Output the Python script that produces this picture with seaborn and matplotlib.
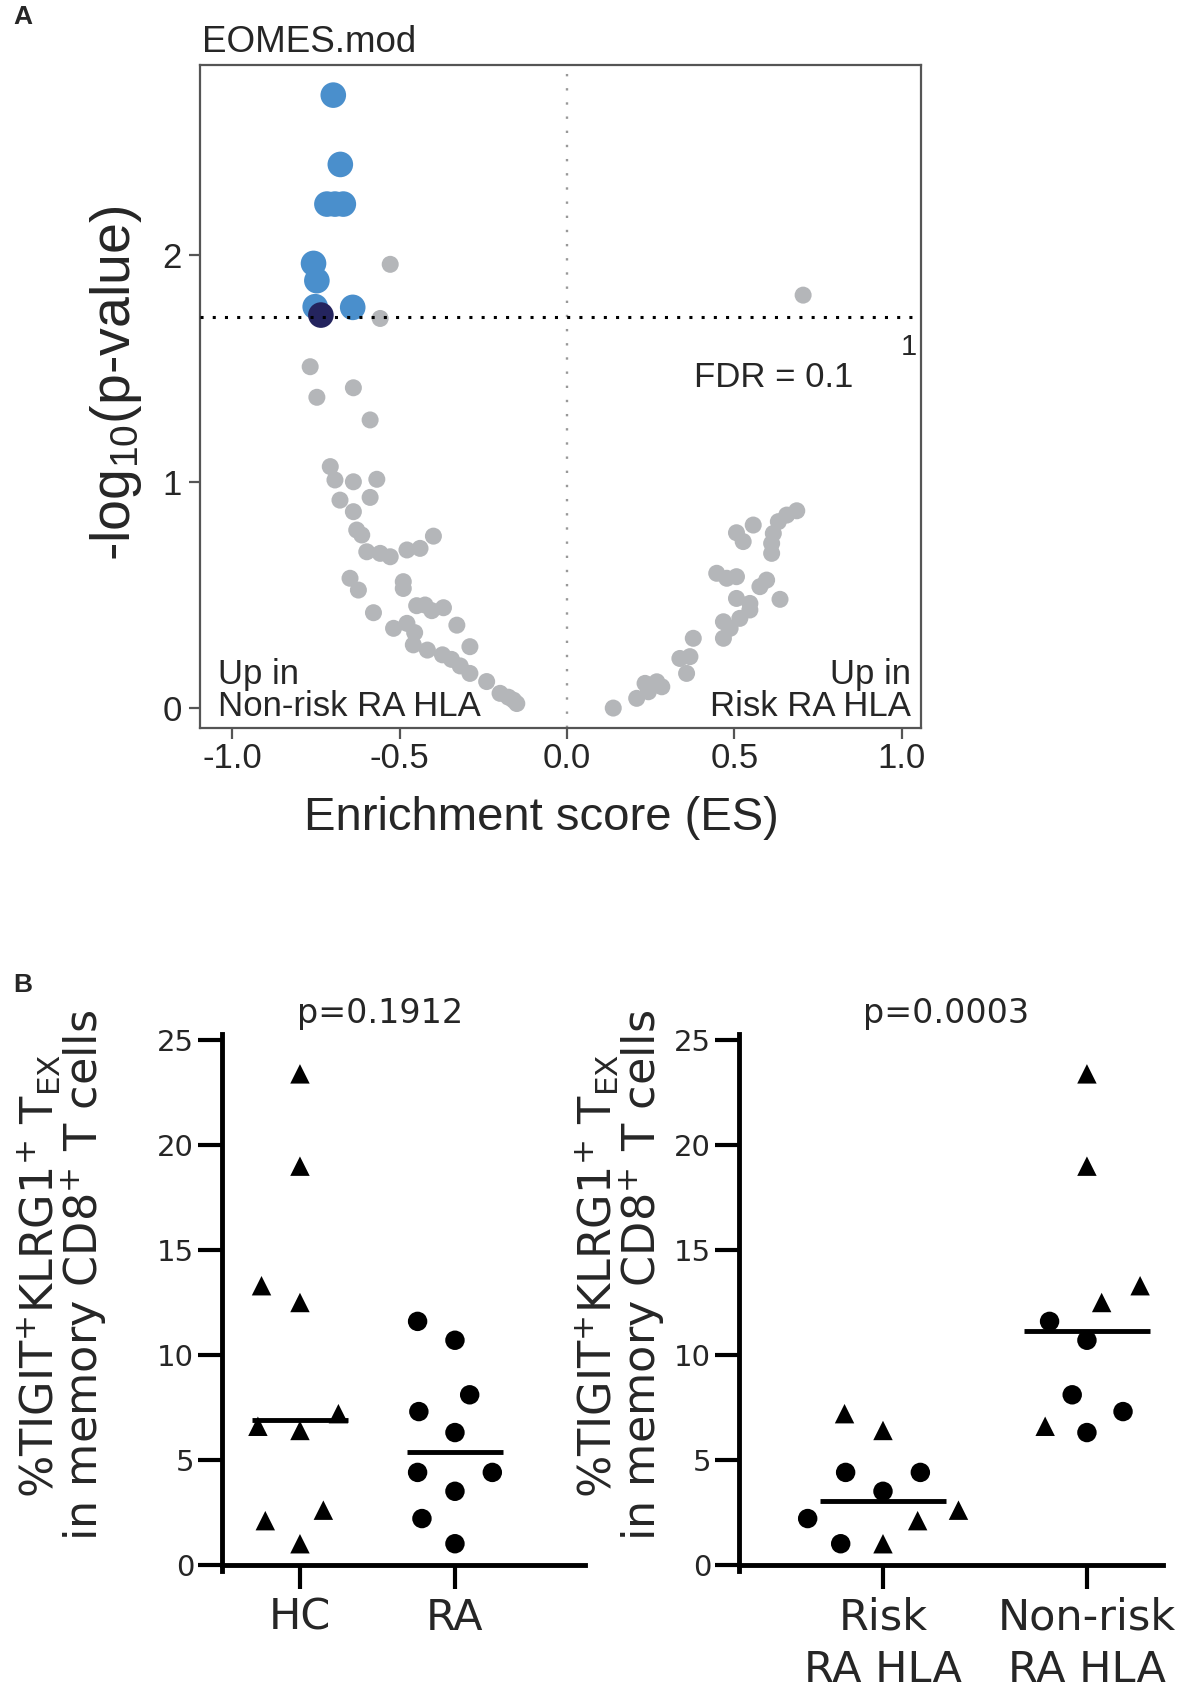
import numpy as np
import pandas as pd
import seaborn as sns
import matplotlib.pyplot as plt
from matplotlib.markers import MarkerStyle

# ---- panel A: enrichment score vs -log10(p) for each module ----
es_gray = [-0.528, -0.558, 0.705,
           -0.767, -0.747, -0.638, -0.588,
           -0.707, -0.693, -0.638, -0.568, -0.588, -0.678, -0.638, -0.628, -0.613,
           -0.598, -0.558, -0.528, -0.478, -0.439, -0.399,
           -0.648, -0.623, -0.489, -0.489,
           -0.578, -0.518, -0.478, -0.455,
           -0.449, -0.424, -0.404, -0.369,
           -0.329, -0.459, -0.417, -0.372, -0.345, -0.290,
           -0.319, -0.290, -0.240, -0.200, -0.175, -0.160, -0.150,
           0.138, 0.208, 0.243, 0.233, 0.268, 0.283, 0.357, 0.337, 0.367, 0.377,
           0.467, 0.487, 0.467, 0.516, 0.506, 0.546, 0.546, 0.636, 0.596, 0.576,
           0.447, 0.477, 0.506, 0.611, 0.611, 0.616, 0.526, 0.506, 0.556, 0.631,
           0.656, 0.686]
logp_gray = [1.959, 1.720, 1.823,
             1.507, 1.372, 1.414, 1.272,
             1.066, 1.007, 0.999, 1.010, 0.930, 0.918, 0.867, 0.786, 0.764,
             0.690, 0.683, 0.668, 0.698, 0.705, 0.759,
             0.573, 0.521, 0.558, 0.528,
             0.421, 0.352, 0.374, 0.333,
             0.452, 0.455, 0.430, 0.443,
             0.366, 0.279, 0.256, 0.235, 0.215, 0.271,
             0.186, 0.153, 0.117, 0.065, 0.048, 0.035, 0.020,
             0.000, 0.043, 0.072, 0.109, 0.116, 0.094, 0.153, 0.219, 0.227, 0.308,
             0.308, 0.352, 0.381, 0.396, 0.484, 0.462, 0.433, 0.480, 0.565, 0.536,
             0.595, 0.573, 0.580, 0.683, 0.727, 0.771, 0.735, 0.774, 0.808, 0.823,
             0.852, 0.871]
es_blue = [-0.698, -0.677, -0.717, -0.693, -0.668, -0.757, -0.747, -0.752, -0.640]
logp_blue = [2.706, 2.400, 2.225, 2.225, 2.225, 1.963, 1.887, 1.772, 1.769]
es_navy = [-0.735]
logp_navy = [1.735]
fdr_cut = 1.726

# ---- panel B: % TIGIT+KLRG1+ TEX in memory CD8+ T cells ----
hc_vals = [23.4, 19.0, 13.3, 12.5, 7.2, 6.4, 6.6, 2.1, 2.6, 1.0]
ra_vals = [11.6, 10.7, 8.1, 7.3, 6.3, 4.4, 4.4, 3.5, 2.2, 1.0]
risk_tri = [6.4, 7.2, 2.6, 2.1, 1.0]
risk_dot = [4.4, 4.4, 3.5, 2.2, 1.0]
nonrisk_tri = [23.4, 19.0, 12.5, 13.3, 6.6]
nonrisk_dot = [10.7, 11.6, 8.1, 7.3, 6.3]
groups_left = ['HC', 'RA']
groups_right = ['Risk\nRA HLA', 'Non-risk\nRA HLA']
p_left = 'p=0.1912'
p_right = 'p=0.0003'

sns.set_style('white')
plt.rcParams['font.family'] = ['Liberation Sans', 'DejaVu Sans']
plt.rcParams['mathtext.fontset'] = 'custom'
plt.rcParams['mathtext.rm'] = 'Liberation Sans'
plt.rcParams['mathtext.it'] = 'Liberation Sans:italic'
plt.rcParams['axes.unicode_minus'] = False

W, H = 1181, 1703
fig = plt.figure(figsize=(W / 100, H / 100), dpi=100)


def box(l, t, r, b):
    return [l / W, 1 - b / H, (r - l) / W, (b - t) / H]


# ---------------- panel A ----------------
axA = fig.add_axes(box(200, 65, 921, 728))
gsea = pd.DataFrame({
    'ES': es_gray + es_blue + es_navy,
    'logp': logp_gray + logp_blue + logp_navy,
    'grp': ['ns'] * len(es_gray) + ['sig'] * len(es_blue) + ['top'] * len(es_navy),
})
sns.scatterplot(data=gsea, x='ES', y='logp', hue='grp', size='grp',
                palette={'ns': '#b4b6b9', 'sig': '#4a8fcc', 'top': '#24245e'},
                sizes={'ns': 150, 'sig': 340, 'top': 340},
                linewidth=0, alpha=1, legend=False, ax=axA)
axA.axvline(0, color='#999999', lw=1.7, ls=(0, (1, 5)), zorder=0)
axA.axhline(fdr_cut, color='black', lw=2.2, ls=(0, (1, 3)), zorder=3)

axA.set_xlim(-1.096, 1.057)
axA.set_ylim(-0.088, 2.839)
axA.set_xticks([-1, -0.5, 0, 0.5, 1])
axA.set_xticklabels(['-1.0', '-0.5', '0.0', '0.5', '1.0'])
axA.set_yticks([0, 1, 2])
for s in axA.spines.values():
    s.set_color('#555555')
    s.set_linewidth(1.6)
axA.tick_params(direction='out', length=8, width=1.6, color='#555555',
                labelsize=25, left=True, bottom=True)
axA.tick_params(axis='x', pad=2)
axA.tick_params(axis='y', pad=5)
axA.set_xlabel('Enrichment score (ES)', fontsize=34)
axA.xaxis.set_label_coords(0.474, -0.103)
axA.set_ylabel('-log$_{\\mathregular{10}}$(p-value)', fontsize=40)
axA.yaxis.set_label_coords(-0.077, 0.52)

axA.text(0.003, 1.019, 'EOMES.mod', transform=axA.transAxes, fontsize=26.5, va='baseline')
axA.text(0.379, 1.461, 'FDR = 0.1', fontsize=25, va='center')
axA.text(1.02, 1.592, '1', fontsize=21, ha='center', va='center')
axA.text(-1.042, 0.22, 'Up in\nNon-risk RA HLA', fontsize=25, va='top', linespacing=0.97)
axA.text(1.027, 0.22, 'Up in\nRisk RA HLA', fontsize=25, va='top', ha='right',
         multialignment='right', linespacing=0.97)

# ---------------- panel B ----------------
tri_m = MarkerStyle('^')
tri_path = tri_m.get_path().transformed(tri_m.get_transform())
dot_m = MarkerStyle('o')
dot_path = dot_m.get_path().transformed(dot_m.get_transform())

left_df = pd.DataFrame({
    'group': [groups_left[0]] * len(hc_vals) + [groups_left[1]] * len(ra_vals),
    'value': hc_vals + ra_vals,
    'shape': ['tri'] * len(hc_vals) + ['dot'] * len(ra_vals),
})
right_df = pd.DataFrame({
    'group': [groups_right[0]] * (len(risk_tri) + len(risk_dot))
             + [groups_right[1]] * (len(nonrisk_tri) + len(nonrisk_dot)),
    'value': risk_tri + risk_dot + nonrisk_tri + nonrisk_dot,
    'shape': ['tri'] * len(risk_tri) + ['dot'] * len(risk_dot)
             + ['tri'] * len(nonrisk_tri) + ['dot'] * len(nonrisk_dot),
})

ylab = ('%TIGIT$^{\\mathregular{+}}$KLRG1$^{\\mathregular{+}}$ T$_{\\mathregular{EX}}$\n'
        'in memory CD8$^{\\mathregular{+}}$ T cells')
fam_b = 'DejaVu Sans'


def dot_panel(ax, df, order, ptext, px, xlim, label_x):
    # invisible wide edge just spreads the swarm like the original dot plot
    sns.swarmplot(data=df, x='group', y='value', order=order, color='black',
                  size=14, linewidth=15, edgecolor='none', ax=ax)
    for coll in ax.collections:
        offs = coll.get_offsets()
        if len(offs) == 0:
            continue
        k = int(round(np.mean(offs[:, 0])))
        shapes = df.loc[df['group'] == order[k], 'shape']
        coll.set_paths([tri_path if sh == 'tri' else dot_path for sh in shapes])
    for i, g in enumerate(order):
        m = df.loc[df['group'] == g, 'value'].median()
        ax.hlines(m, i - 0.31, i + 0.31, color='black', lw=3.5, zorder=4)
    ax.set_xlim(*xlim)
    ax.set_ylim(-0.3, 25.3)
    ax.set_yticks([0, 5, 10, 15, 20, 25])
    ax.spines[['top', 'right']].set_visible(False)
    for side in ['left', 'bottom']:
        ax.spines[side].set_linewidth(3.5)
        ax.spines[side].set_color('black')
    ax.spines['bottom'].set_position(('data', 0))
    ax.tick_params(axis='y', direction='out', length=17, width=3, labelsize=21,
                   pad=3, left=True, color='black')
    ax.tick_params(axis='x', direction='out', length=17, width=3, labelsize=31,
                   pad=6, bottom=True, color='black')
    for lbl in ax.get_xticklabels() + ax.get_yticklabels():
        lbl.set_fontfamily(fam_b)
        lbl.set_linespacing(1.3)
    ax.set_xlabel('')
    ax.set_ylabel(ylab, fontsize=32, linespacing=0.92, family=fam_b)
    ax.yaxis.set_label_coords(label_x, 0.55)
    ax.text(px, 26.3, ptext, fontsize=24, ha='center', va='center', family=fam_b,
            clip_on=False)


axB1 = fig.add_axes(box(222, 1034, 585, 1571))
dot_panel(axB1, left_df, groups_left, p_left, 0.52, (-0.503, 1.839), -0.31)

axB2 = fig.add_axes(box(739, 1034, 1163, 1571))
dot_panel(axB2, right_df, groups_right, p_right, 0.31, (-0.706, 1.373), -0.17)

fig.text(13 / W, 1 - 17 / H, 'A', fontsize=19, weight='bold', va='center')
fig.text(13 / W, 1 - 985 / H, 'B', fontsize=19, weight='bold', va='center')

fig.savefig('out.png', dpi=100)
